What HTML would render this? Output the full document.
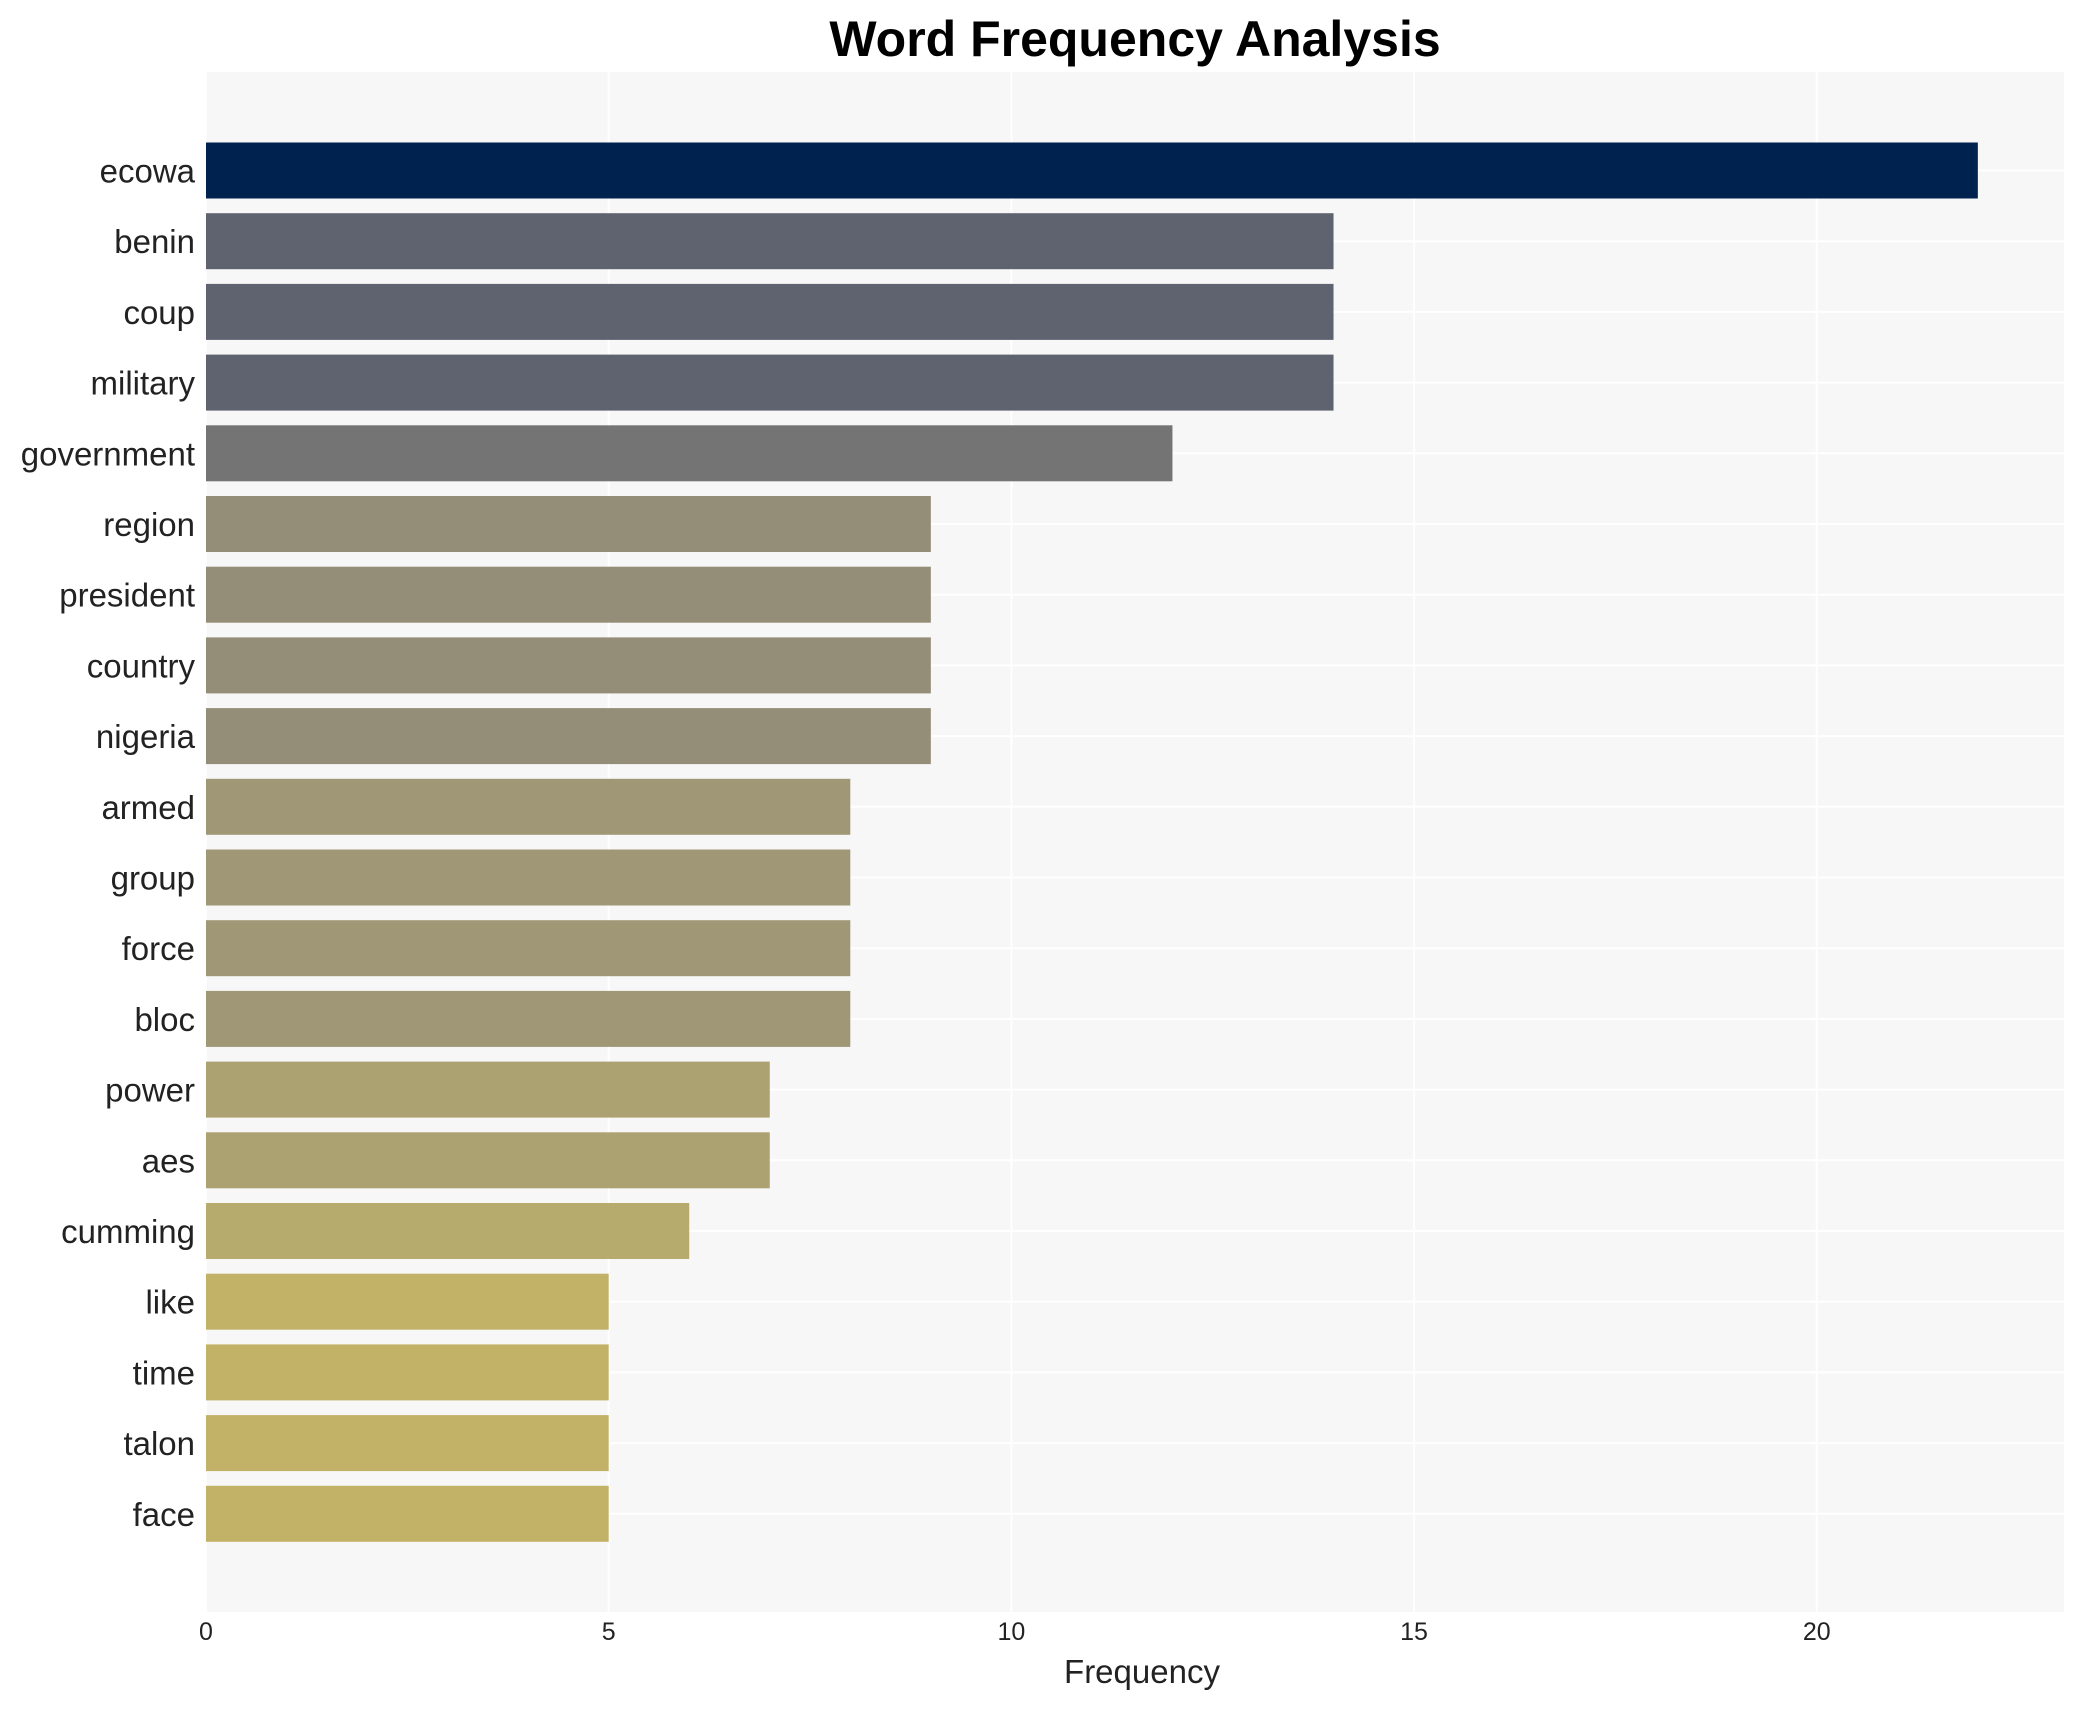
<!DOCTYPE html>
<html><head><meta charset="utf-8"><style>
html,body{margin:0;padding:0;background:#fff;}
svg{display:block;font-family:"Liberation Sans",Arial,sans-serif;}
</style></head><body>
<svg id="chart" width="2085" height="1710" viewBox="0 0 2085 1710">
<text x="1135" y="56" text-anchor="middle" font-size="50" font-weight="bold" fill="#000">Word Frequency Analysis</text>
<rect x="206" y="72" width="1858" height="1540" fill="#f7f7f7"/>
<g id="grid"></g>
<g id="bars"></g>
<g id="ylabels"></g>
<g id="xticks"></g>
<text x="1142" y="1683" text-anchor="middle" font-size="33" fill="#222">Frequency</text>
</svg>
<script>
const categories=["ecowa","benin","coup","military","government","region","president","country","nigeria","armed","group","force","bloc","power","aes","cumming","like","time","talon","face"];
const values=[22,14,14,14,12,9,9,9,9,8,8,8,8,7,7,6,5,5,5,5];
const xTicks=[0,5,10,15,20];
const colorByValue={22:"#00224e",14:"#5f6370",12:"#747474",9:"#948d77",8:"#9f9775",7:"#aca171",6:"#b6aa6c",5:"#c2b268"};
const NS="http://www.w3.org/2000/svg";
const plotLeft=206,plotRight=2064,plotTop=72,plotBottom=1612,xMax=23.07;
const xScale=v=>plotLeft+(plotRight-plotLeft)*v/xMax;
const firstCenter=170.5,pitch=70.7,barH=56;
const yScale=i=>firstCenter+i*pitch;
function mk(tag,attrs,parent){const e=document.createElementNS(NS,tag);for(const k in attrs)e.setAttribute(k,attrs[k]);document.getElementById(parent).appendChild(e);return e;}
xTicks.forEach(t=>{
  const l=mk("line",{x1:xScale(t),x2:xScale(t),y1:plotTop,y2:plotBottom,stroke:"#ffffff","stroke-width":2},"grid");
  
  
  const tx=mk("text",{x:xScale(t),y:1640,"text-anchor":"middle","font-size":25,fill:"#222"},"xticks");
  tx.textContent=t;
  
  
});
categories.forEach((c,i)=>{
  const g=mk("line",{x1:plotLeft,x2:plotRight,y1:yScale(i),y2:yScale(i),stroke:"#ffffff","stroke-width":2},"grid");
  
  
  const r=mk("rect",{x:plotLeft,y:yScale(i)-barH/2,width:xScale(values[i])-plotLeft,height:barH,fill:colorByValue[values[i]]||"#c2b268"},"bars");
  
  
  const t=mk("text",{x:195,y:yScale(i)+12,"text-anchor":"end","font-size":33,fill:"#222"},"ylabels");
  t.textContent=c;
  
  
});
</script>
</body></html>
